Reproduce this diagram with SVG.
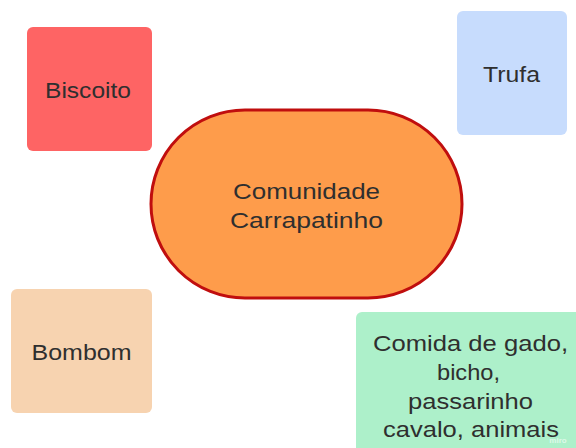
<svg xmlns="http://www.w3.org/2000/svg" width="576" height="448" viewBox="0 0 576 448">
<style>
.t{font-family:"Liberation Sans",Arial,sans-serif;font-size:22px;fill:#2f2f2f;text-anchor:middle}
</style>
<rect width="576" height="448" fill="#ffffff"/>
<g id="connectors"></g>
<g id="biscoito">
<rect x="27" y="27" width="125" height="124" rx="6" fill="#fe6464"/>
<text class="t" x="88" y="98" textLength="86" lengthAdjust="spacingAndGlyphs">Biscoito</text>
</g>
<g id="trufa">
<rect x="457" y="11" width="110" height="124" rx="6" fill="#c7dcfd"/>
<text class="t" x="511.5" y="81.5" textLength="57" lengthAdjust="spacingAndGlyphs">Trufa</text>
</g>
<g id="comunidade">
<rect x="151" y="110" width="311" height="188" rx="94" fill="#fe9c4b" stroke="#c00e0e" stroke-width="3"/>
<text class="t" x="306.5" y="199" textLength="147" lengthAdjust="spacingAndGlyphs">Comunidade</text>
<text class="t" x="306.5" y="228" textLength="153" lengthAdjust="spacingAndGlyphs">Carrapatinho</text>
</g>
<g id="bombom">
<rect x="11" y="289" width="141" height="124" rx="6" fill="#f7d3b0"/>
<text class="t" x="81.5" y="360" textLength="100" lengthAdjust="spacingAndGlyphs">Bombom</text>
</g>
<g id="comida">
<rect x="356" y="312" width="230" height="150" rx="6" fill="#adf0ca"/>
<text class="t" x="470.5" y="351" textLength="195" lengthAdjust="spacingAndGlyphs">Comida de gado,</text>
<text class="t" x="468.5" y="380" textLength="63" lengthAdjust="spacingAndGlyphs">bicho,</text>
<text class="t" x="470.5" y="409" textLength="125" lengthAdjust="spacingAndGlyphs">passarinho</text>
<text class="t" x="471" y="437" textLength="176" lengthAdjust="spacingAndGlyphs">cavalo, animais</text>
</g>
<text x="558" y="443" font-family="'Liberation Sans',Arial,sans-serif" font-size="8" font-weight="bold" fill="#ffffff" fill-opacity="0.6" text-anchor="middle">miro</text>
</svg>
